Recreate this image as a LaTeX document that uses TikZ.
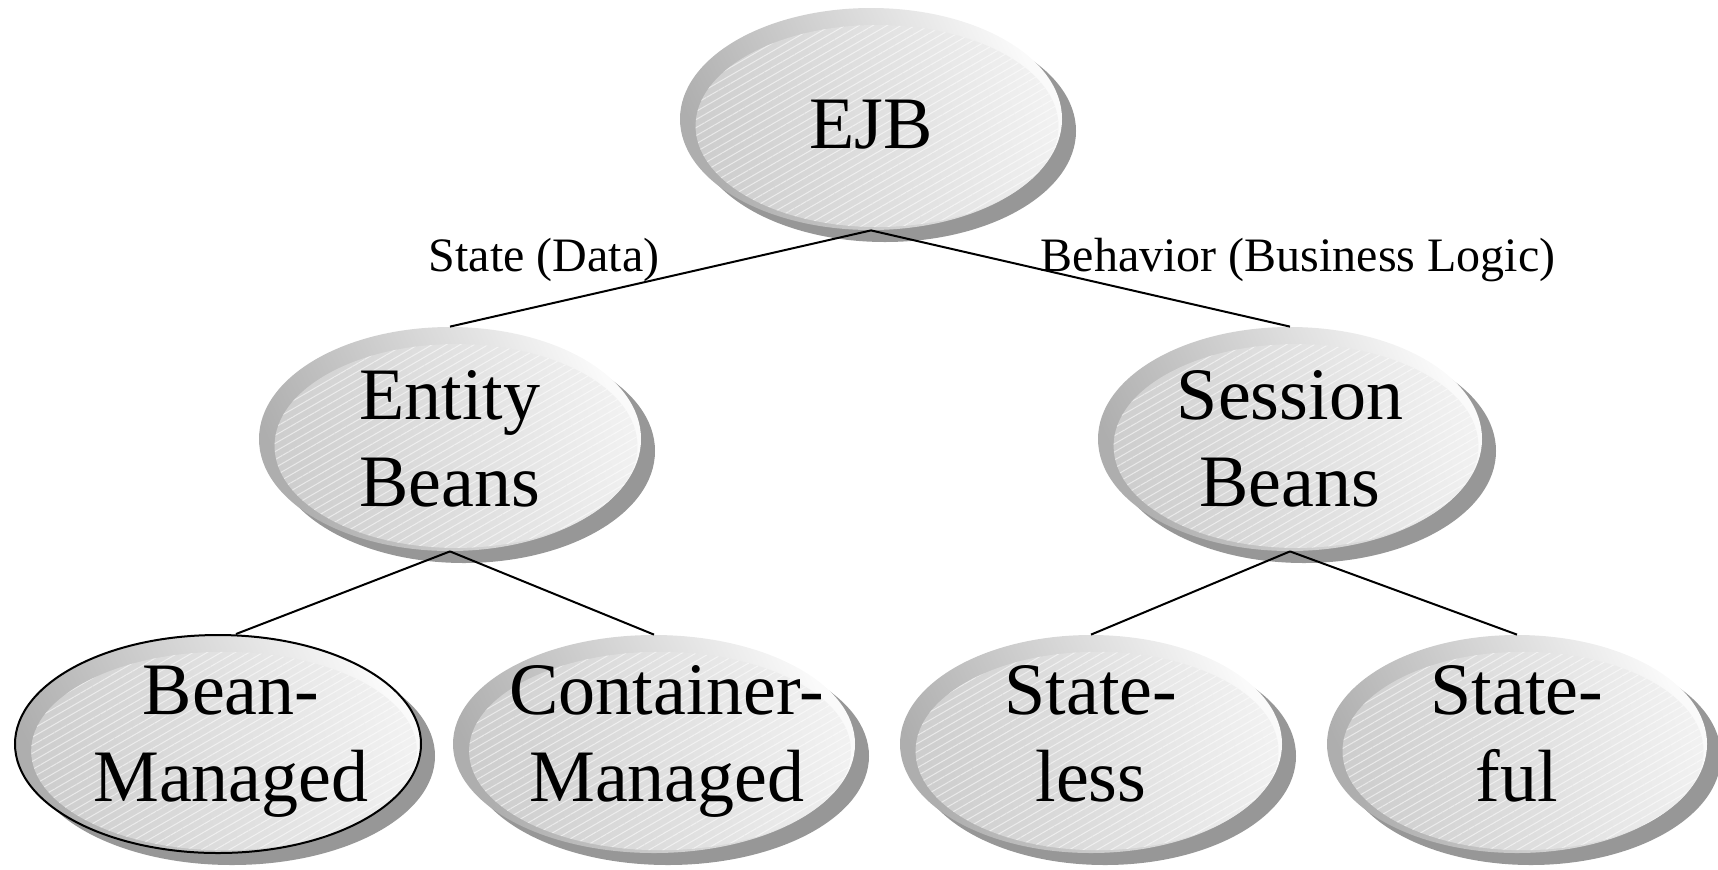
\documentclass[tikz,border=0pt]{standalone}
\usepackage{fontspec}
\setmainfont{Liberation Serif}
\usetikzlibrary{shapes.geometric,shadows,patterns.meta}

\definecolor{rimdark}{HTML}{AEAEAE}
\definecolor{rimlight}{HTML}{FAFAFA}
\definecolor{innerdark}{HTML}{CDCDCD}
\definecolor{innerlight}{HTML}{F1F1F1}
\definecolor{shadowgray}{HTML}{979797}

\newcommand{\indentline}{\hspace*{13pt}}

\tikzset{
  % shaded oval with drop shadow; #1 = x radius, #2 = y radius (in px)
  bean/.style 2 args={
    ellipse, inner sep=-60pt, align=center,
    minimum width=#1pt, minimum height=#2pt,
    font=\fontsize{37}{43.5}\selectfont,
    drop shadow={shadow xshift=7pt, shadow yshift=-6pt,
                 opacity=1, fill=shadowgray},
    left color=rimdark, right color=rimlight, shading angle=115,
    path picture={
      \shade[left color=innerdark, right color=innerlight, shading angle=105]
        ([xshift=3pt,yshift=-3.5pt]path picture bounding box.center)
        ellipse [x radius={0.475*#1pt}, y radius={0.455*#2pt}];
      \fill[pattern={Lines[angle=30,distance=3.5pt,line width=0.5pt]},
            pattern color=white, opacity=0.55]
        ([xshift=3pt,yshift=-3.5pt]path picture bounding box.center)
        ellipse [x radius={0.475*#1pt}, y radius={0.455*#2pt}];
    }
  },
  % fixes the text block's height above the first baseline and depth below the last
  textbox/.style 2 args={
    execute at begin node={\rule{0pt}{#1}},
    execute at end node={\rule[-#2]{0pt}{#2}}
  },
  link/.style={draw=black, line width=1pt},
  edgelabel/.style={anchor=base, inner sep=0pt, font=\fontsize{24}{28}\selectfont}
}

\begin{document}
\begin{tikzpicture}[x=0.5pt, y=-0.5pt]
  \useasboundingbox (0,0) rectangle (1718,869);

  % ovals
  \node[bean={191}{111}, text height=29pt, text depth=0pt] (ejb) at (871,119) {EJB};
  \node[bean={191}{112}, textbox={31pt}{0pt}] (entity) at (450,439) {Entity\\Beans};
  \node[bean={192}{112}, textbox={31pt}{0pt}] (session) at (1290,439) {Session\\Beans};
  \node[bean={203}{109}, textbox={26pt}{10.5pt}, draw=black, line width=1pt] (bm) at (218,744)
    {\indentline Bean-\\\indentline Managed};
  \node[bean={201}{109}, textbox={26pt}{10.5pt}] (cm) at (654,744)
    {\indentline Container-\\\indentline Managed};
  \node[bean={191}{109}, textbox={26pt}{10.5pt}] (sl) at (1091,744) {State-\\less};
  \node[bean={190}{109}, textbox={26pt}{10.5pt}] (sf) at (1517,744) {State-\\ful};

  % tree links
  \draw[link] (ejb.south) -- (entity.north);
  \draw[link] (ejb.south) -- (session.north);
  \draw[link] (entity.south) -- ([xshift=9pt]bm.north);
  \draw[link] (entity.south) -- (cm.north);
  \draw[link] (session.south) -- (sl.north);
  \draw[link] (session.south) -- (sf.north);

  % link labels
  \node[edgelabel] (lstate) at (544,271) {State (Data)};
  \node[edgelabel] (lbehav) at (1298,271) {Behavior (Business Logic)};
\end{tikzpicture}
\end{document}
